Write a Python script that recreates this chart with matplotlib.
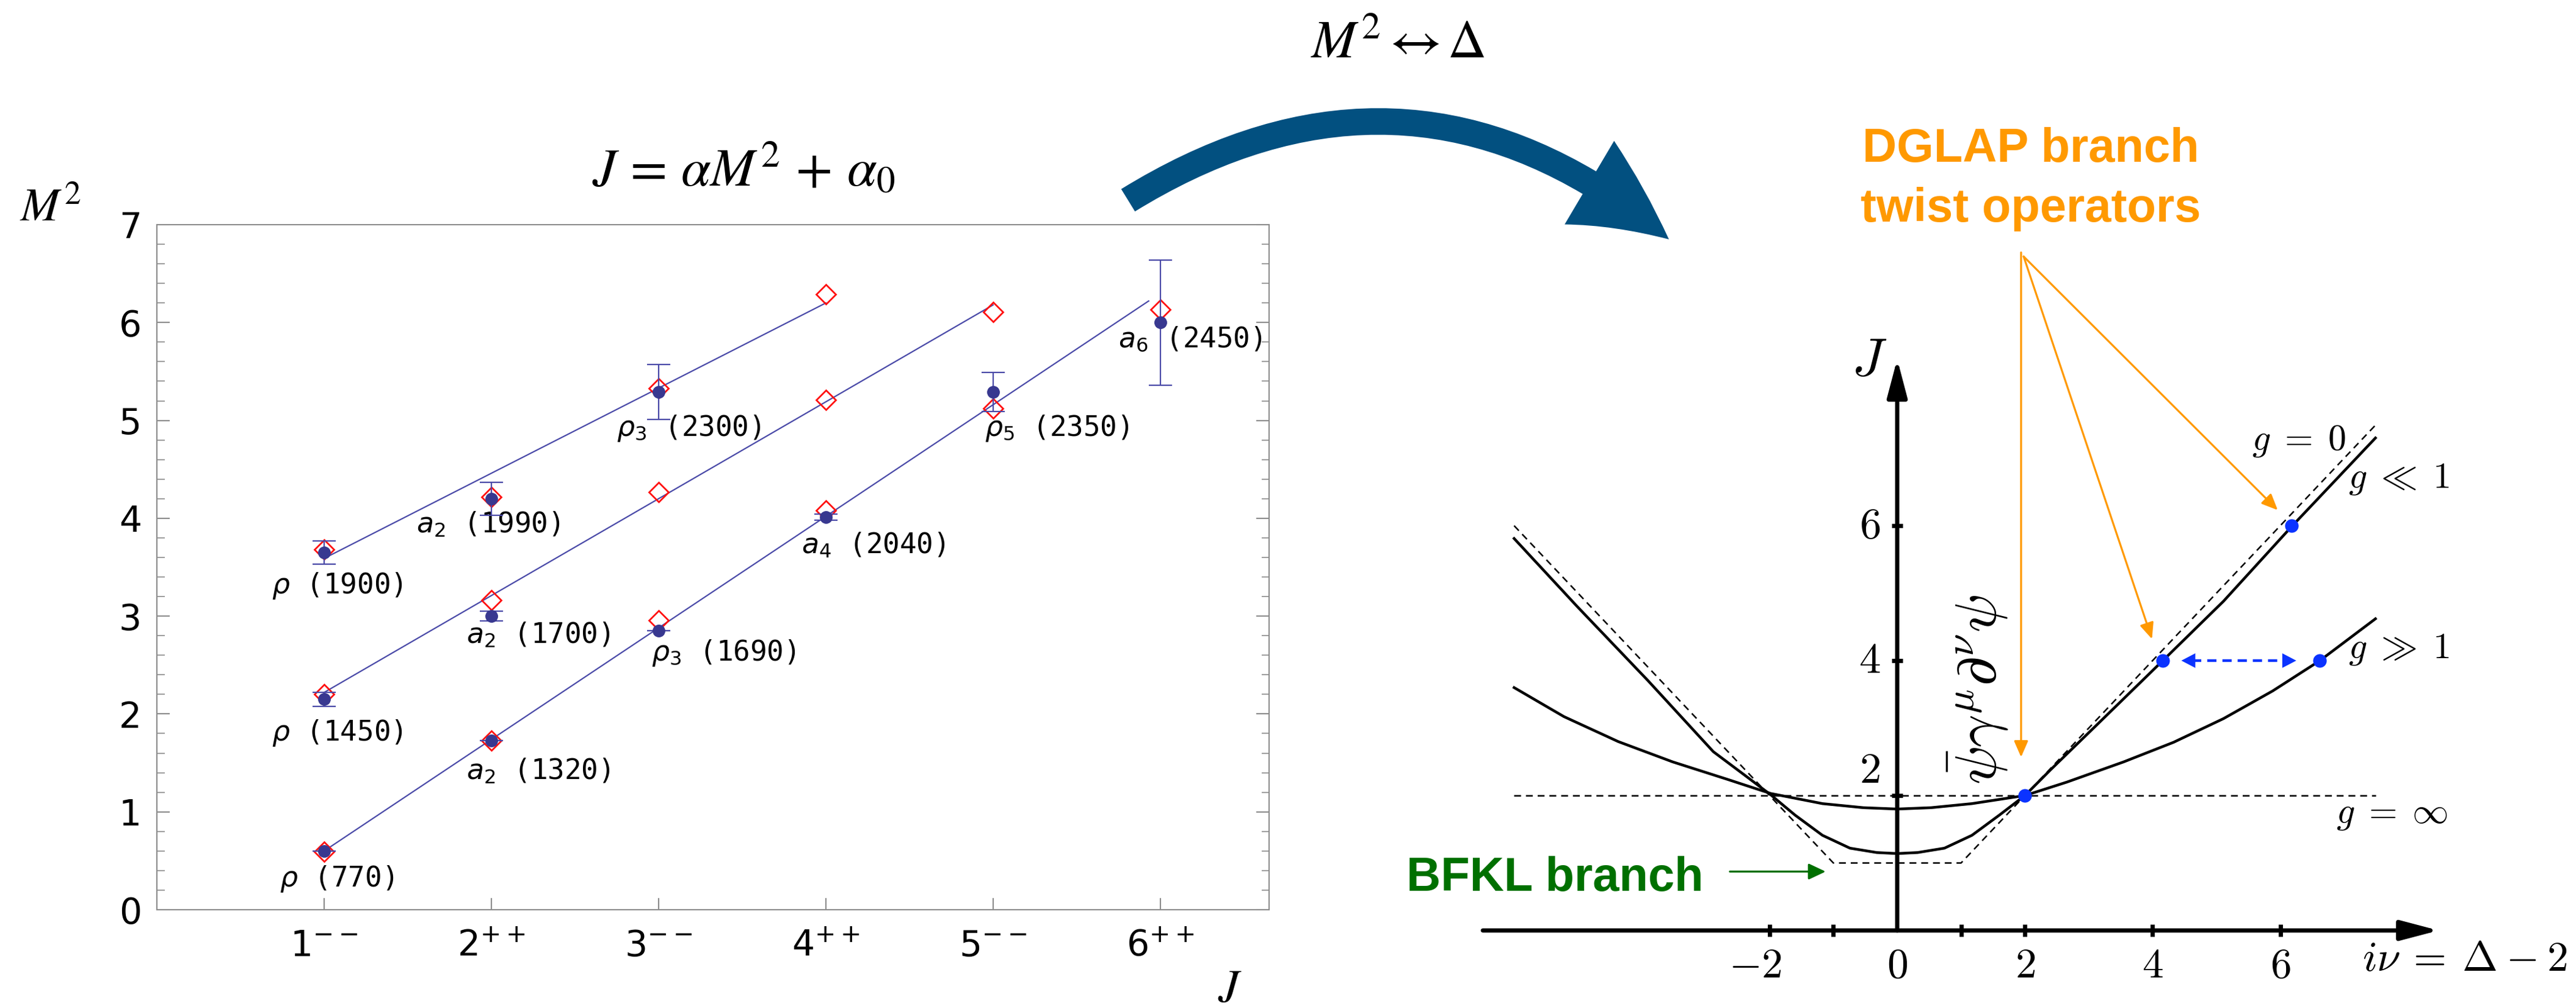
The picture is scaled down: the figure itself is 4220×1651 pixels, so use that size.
import matplotlib
matplotlib.use('Agg')
import matplotlib.pyplot as plt
from matplotlib.patches import FancyArrowPatch
from matplotlib.ticker import MultipleLocator

plt.rcParams['font.family'] = ['DejaVu Sans']
plt.rcParams['mathtext.fontset'] = 'dejavusans'

# ---------------- left panel: meson Regge trajectories ----------------
j_ticks = [1, 2, 3, 4, 5, 6]
j_ticklabels = [r'$1^{--}$', r'$2^{++}$', r'$3^{--}$', r'$4^{++}$', r'$5^{--}$', r'$6^{++}$']

# leading trajectory
lead_j = [1, 2, 3, 4, 5, 6]
lead_m2 = [0.60, 1.73, 2.85, 4.01, 5.29, 6.00]
lead_err = [0.0, 0.0, 0.0, 0.03, 0.20, 0.64]
lead_model = [0.59, 1.73, 2.96, 4.08, 5.12, 6.13]
lead_names = [r'$\rho$ (770)', r'$a_2$ (1320)', r'$\rho_3$ (1690)',
              r'$a_4$ (2040)', r'$\rho_5$ (2350)', r'$a_6$ (2450)']

# first daughter
d1_j = [1, 2]
d1_m2 = [2.15, 3.00]
d1_err = [0.07, 0.05]
d1_model_j = [1, 2, 3, 4, 5]
d1_model = [2.20, 3.16, 4.27, 5.21, 6.11]
d1_names = [r'$\rho$ (1450)', r'$a_2$ (1700)']

# second daughter
d2_j = [1, 2, 3]
d2_m2 = [3.65, 4.20, 5.29]
d2_err = [0.12, 0.17, 0.28]
d2_model_j = [1, 2, 3, 4]
d2_model = [3.68, 4.22, 5.33, 6.29]
d2_names = [r'$\rho$ (1900)', r'$a_2$ (1990)', r'$\rho_3$ (2300)']

# straight-line fits M^2 = slope * J + icpt
fit_slope = [1.14, 0.99, 0.87]
fit_icpt = [-0.54, 1.23, 2.72]
fit_jlo = [1.0, 1.0, 1.0]
fit_jhi = [5.93, 5.0, 4.0]

# label offsets (pixels, from the measured point)
lead_off = [(21, -46), (77, -51), (106, -36), (78, -46), (104, -59), (49, -27)]
d1_off = [(21, -55), (77, -31)]
d2_off = [(21, -55), (-5, -42), (49, -59)]

# ---------------- right panel: J(nu) sketch ----------------
nu_weak = [-6.0, -5.0, -3.9, -2.88, -2.4, -1.98, -1.6, -1.17, -0.74, -0.32, 0.0,
           0.32, 0.74, 1.17, 1.6, 2.0, 2.4, 3.14, 4.16, 5.11, 6.18, 7.49]
j_weak = [5.81, 4.79, 3.70, 2.65, 2.31, 2.01, 1.71, 1.41, 1.22, 1.155, 1.14,
          1.155, 1.22, 1.41, 1.71, 2.0, 2.38, 3.06, 4.0, 4.88, 5.99, 7.30]

nu_strong = [-6.0, -5.22, -4.37, -3.52, -2.66, -1.98, -1.17, -0.53, 0.0,
             0.53, 1.17, 2.0, 2.66, 3.55, 4.33, 5.11, 5.88, 6.62, 7.49]
j_strong = [3.60, 3.17, 2.80, 2.50, 2.24, 2.03, 1.88, 1.82, 1.80,
            1.82, 1.88, 2.0, 2.20, 2.50, 2.79, 3.14, 3.55, 4.0, 4.62]

nu_free = [-6.0, -1.0, 1.0, 7.5]
j_free = [6.0, 1.0, 1.0, 7.5]
nu_inf = [-6.0, 7.5]
j_inf = [2.0, 2.0]

dot_nu = [2.0, 4.16, 6.18, 6.62]
dot_j = [2.0, 4.0, 6.0, 4.0]

nu_ticks = [-2, -1, 1, 2, 4, 6]
nu_labels = {-2: r'$-2$', 0: r'$0$', 2: r'$2$', 4: r'$4$', 6: r'$6$'}
jr_ticks = [2, 4, 6]

fig = plt.figure(figsize=(42.2, 16.51), dpi=100)
W, H = 4220, 1651

# left axes
ax = fig.add_axes([257 / W, 1 - 1490 / H, (2079 - 257) / W, (1490 - 368) / H])
ax.set_xlim(0, 6.65)
ax.set_ylim(0, 7)
for s in ax.spines.values():
    s.set_color('#8c8c8c')
    s.set_linewidth(1.5)

line_c = '#4a4aa8'
dot_c = '#383890'
for k in range(3):
    xs = [fit_jlo[k], fit_jhi[k]]
    ax.plot(xs, [fit_slope[k] * x + fit_icpt[k] for x in xs], color=line_c, lw=1.6, zorder=2)

for mj, mm in [(lead_j, lead_model), (d1_model_j, d1_model), (d2_model_j, d2_model)]:
    ax.plot(mj, mm, 'D', ms=16.5, mfc='none', mec='#ff1010', mew=2.0, zorder=3)

for ej, em, ee, names, offs in [(lead_j, lead_m2, lead_err, lead_names, lead_off),
                                (d1_j, d1_m2, d1_err, d1_names, d1_off),
                                (d2_j, d2_m2, d2_err, d2_names, d2_off)]:
    ax.errorbar(ej, em, yerr=ee, fmt='o', ms=14, color=dot_c, ecolor=line_c,
                elinewidth=1.6, capsize=14, capthick=1.6, zorder=4)
    for x, y, name, off in zip(ej, em, names, offs):
        ax.annotate(name, (x, y), xytext=off, textcoords='offset pixels',
                    ha='center', va='center', fontsize=33, family='DejaVu Sans Mono')

ax.set_xticks(j_ticks)
ax.set_xticklabels(j_ticklabels)
ax.set_yticks(range(8))
ax.yaxis.set_minor_locator(MultipleLocator(0.2))
ax.tick_params(axis='both', which='major', direction='in', color='#8c8c8c',
               width=1.5, labelsize=42)
ax.tick_params(axis='y', which='major', length=15, pad=18, right=True)
ax.tick_params(axis='y', which='minor', direction='in', length=9, width=1.2,
               color='#8c8c8c', right=True)
ax.tick_params(axis='x', which='major', length=14, pad=22)

# right axes in data units of the sketch
ax2 = fig.add_axes([0, 0, 1, 1])
ax2.set_xlim(-3108 / 104.6, (W - 3108) / 104.6)
ax2.set_ylim((1524 - H) / 110.5, 1524 / 110.5)
ax2.set_axis_off()
ax2.patch.set_alpha(0)

ax2.plot(nu_free, j_free, color='k', lw=1.8, dashes=(4.5, 3.2))
ax2.plot(nu_inf, j_inf, color='k', lw=1.8, dashes=(4.5, 3.2))
ax2.plot(nu_weak, j_weak, color='k', lw=3.2, solid_joinstyle='round')
ax2.plot(nu_strong, j_strong, color='k', lw=3.2, solid_joinstyle='round')

# coordinate axes with arrow heads
ax2.annotate('', xy=(8.48, 0), xytext=(-6.49, 0),
             arrowprops=dict(arrowstyle='-|>,head_length=38,head_width=10', lw=5,
                             color='k', shrinkA=0, shrinkB=0, mutation_scale=1))
ax2.annotate('', xy=(0, 8.47), xytext=(0, 0),
             arrowprops=dict(arrowstyle='-|>,head_length=38,head_width=10', lw=5,
                             color='k', shrinkA=0, shrinkB=0, mutation_scale=1))
ax2.plot(nu_ticks, [0] * len(nu_ticks), '|', color='k', ms=14, mew=5)
ax2.plot([0] * len(jr_ticks), jr_ticks, '_', color='k', ms=13, mew=5)

cm_kw = dict(math_fontfamily='cm', color='k')
for v, lab in nu_labels.items():
    ax2.text(v - (0.22 if v < 0 else 0), -0.52, lab, ha='center', va='center', fontsize=50, **cm_kw)
ax2.text(-0.43, 6.0, r'$6$', ha='center', va='center', fontsize=51, **cm_kw)
ax2.text(-0.43, 4.0, r'$4$', ha='center', va='center', fontsize=51, **cm_kw)
ax2.text(-0.43, 2.37, r'$2$', ha='center', va='center', fontsize=51, **cm_kw)
ax2.text(-0.44, 8.45, r'$J$', ha='center', va='center', fontsize=64, **cm_kw)
ax2.text(8.89, -0.42, r'$i\nu \:=\: \Delta \:-\: 2$', ha='center', va='center',
         fontsize=50, **cm_kw)
ax2.text(6.29, 7.26, r'$g \;=\; 0$', ha='center', va='center', fontsize=43, **cm_kw)
ax2.text(7.86, 6.70, r'$g \;\ll\; 1$', ha='center', va='center', fontsize=43, **cm_kw)
ax2.text(7.86, 4.18, r'$g \;\gg\; 1$', ha='center', va='center', fontsize=43, **cm_kw)
ax2.text(7.75, 1.73, r'$g \;=\; \infty$', ha='center', va='center', fontsize=43, **cm_kw)
ax2.text(1.27, 3.57, r'$\bar{\psi}\gamma^{\mu}\partial^{\nu}\psi$', rotation=90,
         ha='center', va='center', fontsize=68, **cm_kw)

# orange pointers to the twist operators
orange = '#ff9900'
for start, tip in [((1.94, 10.05), (1.94, 2.57)),
                   ((1.98, 9.99), (3.99, 4.32)),
                   ((1.98, 9.99), (5.96, 6.23))]:
    ax2.annotate('', xy=tip, xytext=start,
                 arrowprops=dict(arrowstyle='-|>,head_length=16,head_width=7', lw=2.3,
                                 color=orange, shrinkA=0, shrinkB=0, mutation_scale=1))

# green pointer to the BFKL branch
green = '#007000'
ax2.annotate('', xy=(-1.12, 0.873), xytext=(-2.62, 0.873),
             arrowprops=dict(arrowstyle='-|>,head_length=17,head_width=8', lw=2.4,
                             color=green, shrinkA=0, shrinkB=0, mutation_scale=1))

# blue dashed double arrow between the two J = 4 states
blue = '#0b33ff'
ax2.plot([4.62, 6.08], [4.0, 4.0], color=blue, lw=3.2, dashes=(3.4, 2.2))
ax2.annotate('', xy=(4.45, 4.0), xytext=(4.67, 4.0),
             arrowprops=dict(arrowstyle='-|>,head_length=16.5,head_width=8.6', lw=0,
                             color=blue, shrinkA=0, shrinkB=0, mutation_scale=1))
ax2.annotate('', xy=(6.25, 4.0), xytext=(6.03, 4.0),
             arrowprops=dict(arrowstyle='-|>,head_length=16.5,head_width=8.6', lw=0,
                             color=blue, shrinkA=0, shrinkB=0, mutation_scale=1))
ax2.plot(dot_nu, dot_j, 'o', color=blue, ms=16, mew=0, zorder=5)

# overlay in pixel units for titles and the big arrow
ov = fig.add_axes([0, 0, 1, 1])
ov.set_xlim(0, W)
ov.set_ylim(H, 0)
ov.set_axis_off()
ov.patch.set_alpha(0)

pt = 100 / 72.
big = FancyArrowPatch((1848, 328), (2734, 392),
                      arrowstyle='simple,head_length=%.1f,head_width=%.1f,tail_width=%.1f'
                      % (160 / pt, 159 / pt, 43 / pt),
                      connectionstyle='arc3,rad=-0.36', mutation_scale=1,
                      color='#025080', lw=0, shrinkA=0, shrinkB=0, transform=ov.transData)
ov.add_patch(big)

ov.text(1218, 305, r'$J \,=\, \alpha M^2 \,+\, \alpha_0$', ha='center', va='baseline',
        fontsize=63, math_fontfamily='stix')
ov.text(2290, 95, r'$M^2 \leftrightarrow \Delta$', ha='center', va='baseline',
        fontsize=63, math_fontfamily='stix')
ov.text(82, 361, r'$M^2$', ha='center', va='baseline', fontsize=55, math_fontfamily='stix')
ov.text(2015, 1620, r'$J$', ha='center', va='center', fontsize=55, math_fontfamily='stix')

bold = dict(family='Liberation Sans', fontweight='bold', fontsize=56)
ov.text(3327, 265, 'DGLAP branch', ha='center', va='baseline', color=orange, **bold)
ov.text(3327, 363, 'twist operators', ha='center', va='baseline', color=orange, **bold)
ov.text(2791, 1459, 'BFKL branch', ha='right', va='baseline', color=green, **bold)

fig.savefig('out.png', dpi=100)
